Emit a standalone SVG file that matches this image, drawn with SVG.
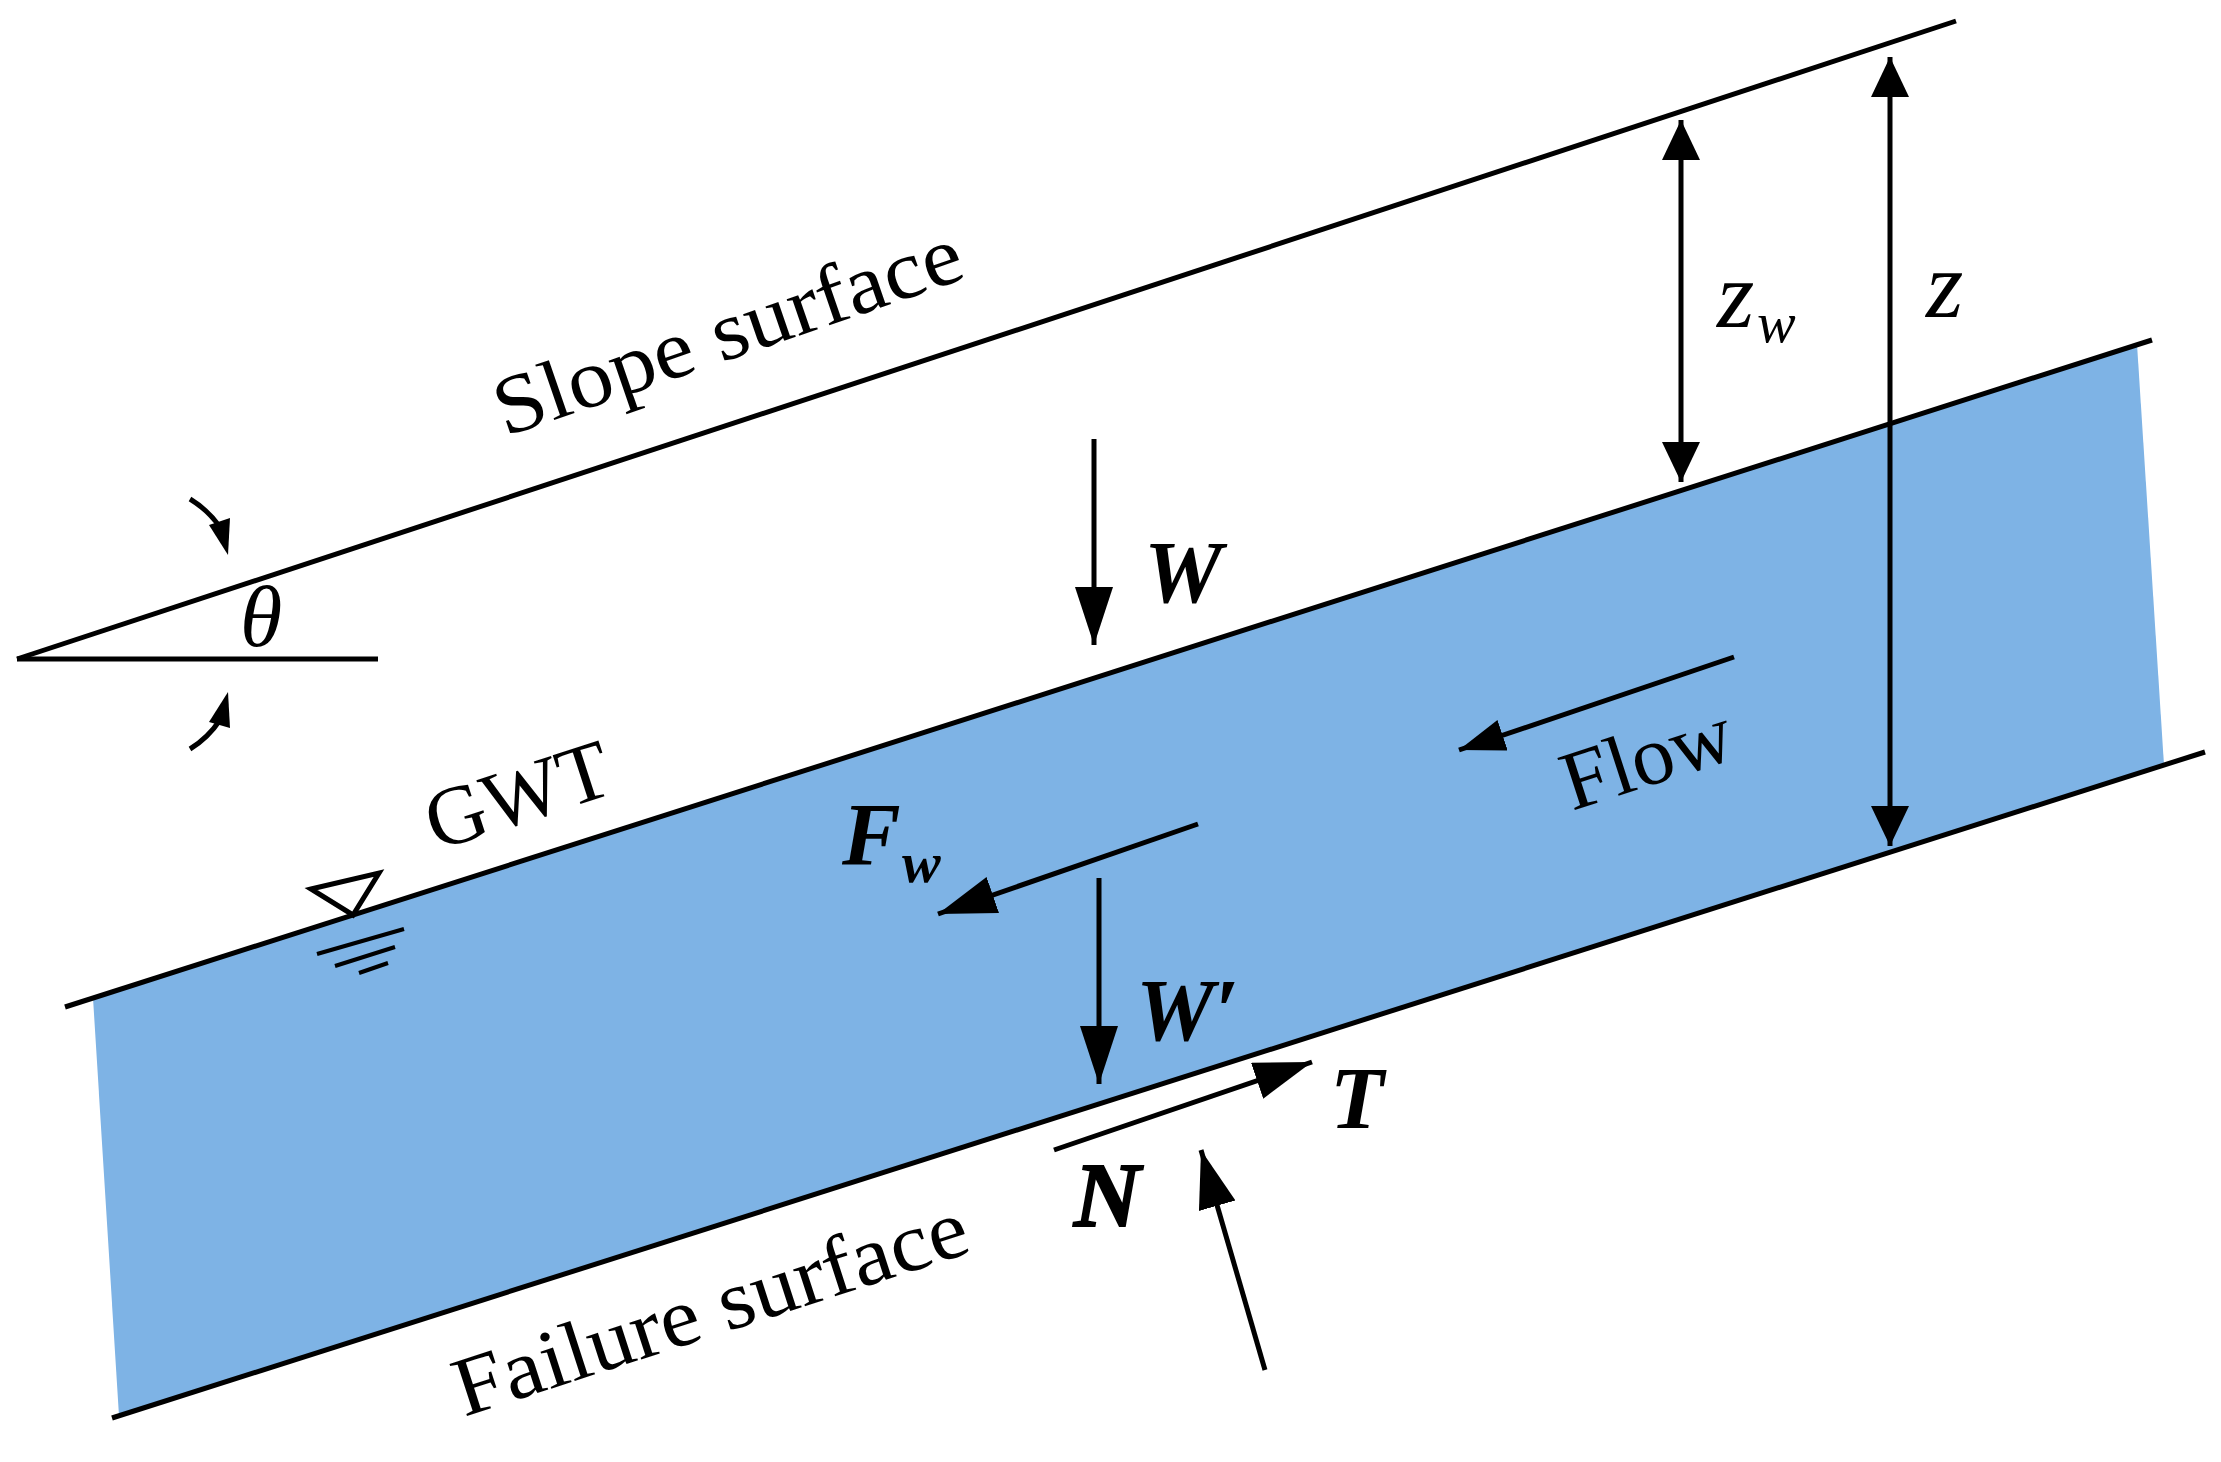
<svg xmlns="http://www.w3.org/2000/svg" width="2221" height="1462" viewBox="0 0 2221 1462">
<style>
.l{stroke:#000;stroke-width:5;fill:none;stroke-linecap:butt}
.a{marker-end:url(#h)}
.d{marker-start:url(#s);marker-end:url(#s)}
.t{font-family:"Liberation Serif","DejaVu Serif",serif;fill:#000}
.lab{font-size:84px}
.sym{font-size:88px;font-style:italic;font-weight:bold}
.var{font-size:96px;font-style:italic}
.sub{font-size:58px;font-style:italic}
</style>
<defs>
<marker id="h" markerUnits="userSpaceOnUse" markerWidth="60" markerHeight="40" refX="58" refY="19" orient="auto" viewBox="0 0 60 40"><path d="M0 0L58 19L0 38Z" fill="#000"/></marker>
<marker id="m" markerUnits="userSpaceOnUse" markerWidth="48" markerHeight="34" refX="46" refY="16" orient="auto" viewBox="0 0 48 34"><path d="M0 0L46 16L0 32Z" fill="#000"/></marker>
<marker id="s" markerUnits="userSpaceOnUse" markerWidth="42" markerHeight="40" refX="40" refY="19" orient="auto-start-reverse" viewBox="0 0 42 40"><path d="M0 0L40 19L0 38Z" fill="#000"/></marker>
</defs>
<rect width="2221" height="1462" fill="#fff"/>
<g id="water"><polygon points="93,998 2137,344 2164,765 119,1416" fill="#7EB3E5"/></g>
<g id="surfaces">
<path class="l" d="M17 659L1956 21"/>
<path class="l" d="M17 659H378"/>
<path class="l" d="M65 1007L2152 340"/>
<path class="l" d="M112 1418L2205 752"/>
</g>
<g id="connectors">
<path class="l a" d="M1094 439V645"/>
<path class="l d" d="M1681 120V482"/>
<path class="l d" d="M1890 57V846"/>
<path class="l" style="marker-end:url(#m)" d="M1734 657L1459 750"/>
<path class="l a" d="M1198 824L938 914"/>
<path class="l a" d="M1099 878V1084"/>
<path class="l a" d="M1054 1150L1312 1062"/>
<path class="l a" d="M1265 1370L1201 1150"/>
<path class="l" d="M190 499Q208 510 220 527"/>
<polygon points="228,555 209,525 230,518"/>
<path class="l" d="M190 749Q208 738 220 720"/>
<polygon points="228,692 209,722 230,728"/>
</g>
<g id="gwt-symbol">
<polygon points="311,889 379,873 353,915" fill="none" stroke="#000" stroke-width="5"/>
<path class="l" d="M317 954L404 929M335 966L395 947M359 973L388 963" style="stroke-width:4"/>
</g>
<g id="labels">
<text class="t lab" transform="translate(505 437) rotate(-19)" textLength="490" lengthAdjust="spacingAndGlyphs">Slope surface</text>
<text class="t lab" transform="translate(436 851) rotate(-18)" textLength="190" lengthAdjust="spacingAndGlyphs">GWT</text>
<text class="t lab" transform="translate(464 1417) rotate(-18)" textLength="536" lengthAdjust="spacingAndGlyphs">Failure surface</text>
<text class="t lab" transform="translate(1572 811) rotate(-18)" textLength="175" lengthAdjust="spacingAndGlyphs">Flow</text>
<text class="t var" style="font-size:86px" x="240" y="646">θ</text>
<text class="t sym" x="1144" y="602">W</text>
<text class="t sym" x="842" y="864">F</text>
<text class="t sub" font-weight="bold" x="902" y="882">w</text>
<text class="t sym" x="1136" y="1040">W′</text>
<text class="t sym" x="1330" y="1128">T</text>
<text class="t sym" style="font-size:92px;stroke:#000;stroke-width:2" x="1074" y="1226">N</text>
<text class="t var" x="1717" y="327">z<tspan class="sub" x="1757" y="342">w</tspan></text>
<text class="t var" x="1926" y="317">z</text>
</g>
</svg>
